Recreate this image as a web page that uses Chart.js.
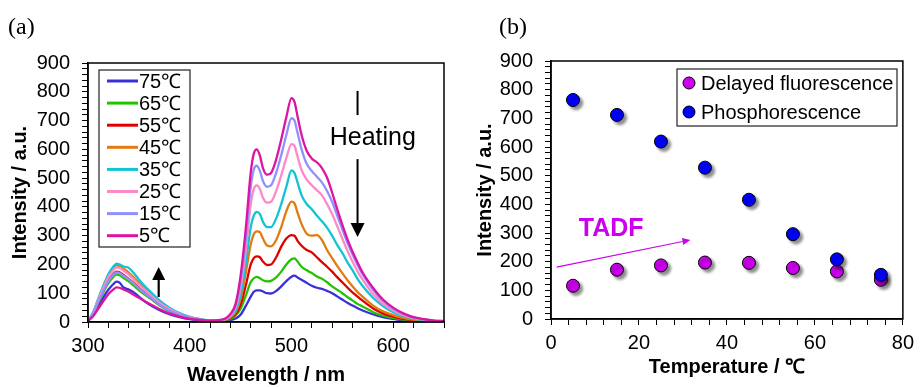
<!DOCTYPE html>
<html><head><meta charset="utf-8">
<script src="https://cdn.jsdelivr.net/npm/chart.js@4/dist/chart.umd.min.js"></script>
<style>
html,body{margin:0;padding:0;background:#fff;}
#wrap{position:relative;width:920px;height:387px;overflow:hidden;}
.panel{position:absolute;top:0;width:460px;height:387px;}
#pa{left:0}#pb{left:460px}
</style></head><body>
<div id="wrap"><div class="panel" id="pa"><canvas id="ca" width="460" height="387"></canvas></div><div class="panel" id="pb"><canvas id="cb" width="460" height="387"></canvas></div></div>
<script>
// ---------- Panel (a) data ----------
const wavelength = [300,305,310,315,320,325,328,331,335,340,345,350,355,360,370,380,390,400,410,
  420,430,435,440,445,450,455,460,463,466,469,472,476,480,485,490,495,500,503,506,510,515,520,525,530,535,540,545,550,555,560,565,570,580,590,600,610,620,630,640,650];
const tempLabels = ['75℃','65℃','55℃','45℃','35℃','25℃','15℃','5℃'];
const int75 = [4,22,55,85,112,132,140,137,120,113,103,88,74,62,42,27,17,10,6,
  3,3,4,7,12,25,55,88,105,110,110,106,100,99,108,124,142,157,161,155,147,136,126,119,115,108,100,89,78,67,57,48,40,27,17,11,6,3,2,1,1];
const int65 = [4,28,66,102,135,157,165,163,153,141,126,111,97,85,58,38,24,14,8,
  4,4,6,11,22,45,90,138,152,157,152,145,141,143,155,175,200,218,221,210,192,180,170,158,150,138,124,112,100,87,75,63,54,35,22,14,8,5,3,2,1];
const int55 = [5,29,70,109,144,167,175,173,163,150,135,119,104,90,62,41,26,15,8,
  4,5,7,14,28,60,125,200,222,228,225,210,198,200,225,262,290,302,300,282,265,250,242,225,208,192,175,156,138,120,103,88,74,48,30,19,11,6,4,2,1];
const int45 = [5,32,78,122,162,188,197,195,185,172,155,136,119,103,71,47,29,17,10,
  4,5,8,16,34,80,168,270,305,315,312,290,266,263,285,330,385,418,412,380,340,307,300,302,285,250,222,195,170,146,124,104,88,58,37,24,14,8,5,3,2];
const int35 = [5,33,80,125,166,193,203,200,193,188,170,148,128,110,76,50,31,18,10,
  5,6,9,19,40,95,200,330,370,383,375,348,330,330,360,410,470,527,518,485,440,410,392,370,350,328,300,268,240,208,180,150,125,85,55,34,20,12,7,4,2];
const int25 = [5,31,76,118,156,181,190,188,178,165,148,130,114,99,68,45,28,16,9,
  5,6,10,22,48,120,245,410,462,475,462,432,415,418,455,510,570,618,612,575,528,495,475,458,440,410,375,333,290,248,210,176,147,98,63,40,24,14,8,4,2];
const int15 = [5,29,69,107,141,164,172,170,160,148,133,117,102,89,61,40,25,15,8,
  5,6,11,25,55,140,285,470,530,543,525,490,470,475,518,580,650,708,700,658,600,550,525,505,485,455,418,370,322,276,235,198,165,113,73,46,28,16,9,5,3];
const int5 = [4,20,46,72,96,113,120,119,113,105,95,84,74,64,45,30,19,11,7,
  5,7,12,28,62,160,320,520,585,600,578,535,512,518,565,635,712,778,765,715,650,595,568,555,535,502,450,392,338,288,245,207,172,120,78,50,30,17,10,5,3];
const seriesA = [int75,int65,int55,int45,int35,int25,int15,int5];

// ---------- Panel (b) data ----------
const temperature = [5,15,25,35,45,55,65,75];
const delayedFluorescence = [116,172,187,197,196,178,166,137];
const phosphorescence = [764,712,619,528,416,296,208,154];
const labelsB = ['Delayed fluorescence','Phosphorescence'];

// ---------- styles ----------
const colorsA = ['#3a30d8','#22c400','#e00000','#e07c10','#10c4d4','#ff88c8','#9090ff','#dc14a0'];
const colorDF = '#cc00ee';
const colorPh = '#0000ff';
const FF = "'Liberation Sans', Arial, Helvetica, sans-serif";

function arrow(ctx, x1, y1, x2, y2, headLen, headHalf, color, lw){
  const ang = Math.atan2(y2-y1, x2-x1);
  const bx = x2 - headLen*Math.cos(ang), by = y2 - headLen*Math.sin(ang);
  ctx.save();
  ctx.strokeStyle = color; ctx.fillStyle = color; ctx.lineWidth = lw;
  ctx.beginPath(); ctx.moveTo(x1,y1); ctx.lineTo(bx,by); ctx.stroke();
  ctx.beginPath();
  ctx.moveTo(x2,y2);
  ctx.lineTo(bx + headHalf*Math.sin(ang), by - headHalf*Math.cos(ang));
  ctx.lineTo(bx - headHalf*Math.sin(ang), by + headHalf*Math.cos(ang));
  ctx.closePath(); ctx.fill();
  ctx.restore();
}

const frame = {
  id:'frame',
  afterDraw(chart){
    const {ctx, chartArea:a} = chart;
    ctx.save(); ctx.strokeStyle='#000'; ctx.lineWidth=1.5;
    ctx.strokeRect(a.left, a.top, a.right-a.left, a.bottom-a.top);
    ctx.restore();
  }
};

const annoA = {
  id:'annoA',
  afterDraw(chart){
    const ctx = chart.ctx, xs = chart.scales.x, ys = chart.scales.y;
    ctx.save();
    // panel label
    ctx.fillStyle='#000'; ctx.font="24px 'Liberation Serif', 'Times New Roman', serif";
    ctx.textBaseline='alphabetic'; ctx.textAlign='left';
    ctx.fillText('(a)', 8, 34);
    // legend
    const lx=99, ly=70, lw=91, lh=177;
    ctx.fillStyle='#fff'; ctx.fillRect(lx,ly,lw,lh);
    ctx.strokeStyle='#222'; ctx.lineWidth=1.2; ctx.strokeRect(lx,ly,lw,lh);
    ctx.font='20px '+FF; ctx.textBaseline='middle';
    chart.data.datasets.forEach((d,i)=>{
      const y = 81 + i*22.1;
      ctx.strokeStyle=d.borderColor; ctx.lineWidth=3;
      ctx.beginPath(); ctx.moveTo(107,y); ctx.lineTo(138,y); ctx.stroke();
      ctx.fillStyle='#000'; ctx.fillText(d.label, 139, y+1);
    });
    // Heating
    const hx = xs.getPixelForValue(565);
    ctx.strokeStyle='#000'; ctx.lineWidth=2;
    ctx.beginPath(); ctx.moveTo(hx, ys.getPixelForValue(803)); ctx.lineTo(hx, ys.getPixelForValue(719)); ctx.stroke();
    ctx.font='25px '+FF; ctx.textAlign='center'; ctx.fillStyle='#000';
    ctx.fillText('Heating', xs.getPixelForValue(580), ys.getPixelForValue(639));
    arrow(ctx, hx, ys.getPixelForValue(566), hx, ys.getPixelForValue(295), 14, 7, '#000', 2);
    const ux = xs.getPixelForValue(369.5);
    arrow(ctx, ux, ys.getPixelForValue(87), ux, ys.getPixelForValue(191), 13, 6.5, '#000', 2.2);
    ctx.restore();
  }
};

const shadow = {
  id:'shadow',
  beforeDatasetsDraw(chart){
    const ctx=chart.ctx; ctx.save();
    ctx.shadowColor='rgba(0,0,0,0.45)'; ctx.shadowOffsetX=3; ctx.shadowOffsetY=3; ctx.shadowBlur=3;
  },
  afterDatasetsDraw(chart){ chart.ctx.restore(); }
};

const annoB = {
  id:'annoB',
  afterDraw(chart){
    const ctx = chart.ctx, xs = chart.scales.x, ys = chart.scales.y;
    ctx.save();
    ctx.fillStyle='#000'; ctx.font="24px 'Liberation Serif', 'Times New Roman', serif";
    ctx.textBaseline='alphabetic'; ctx.textAlign='left';
    ctx.fillText('(b)', 39, 34);
    // legend
    const lx=217, ly=69, lw=220, lh=57;
    ctx.fillStyle='#fff'; ctx.fillRect(lx,ly,lw,lh);
    ctx.strokeStyle='#222'; ctx.lineWidth=1.2; ctx.strokeRect(lx,ly,lw,lh);
    ctx.font='20px '+FF; ctx.textBaseline='middle';
    chart.data.datasets.forEach((d,i)=>{
      const y = 83 + i*29;
      ctx.beginPath(); ctx.arc(229, y, 6, 0, Math.PI*2);
      ctx.fillStyle=d.backgroundColor; ctx.fill();
      ctx.strokeStyle='#000'; ctx.lineWidth=1; ctx.stroke();
      ctx.fillStyle='#000'; ctx.fillText(d.label, 241, y+1);
    });
    // TADF
    ctx.font='bold 25px '+FF; ctx.fillStyle=colorDF; ctx.textAlign='left';
    ctx.fillText('TADF', xs.getPixelForValue(6.3), ys.getPixelForValue(314));
    arrow(ctx, xs.getPixelForValue(1.28), ys.getPixelForValue(181), xs.getPixelForValue(31.7), ys.getPixelForValue(276), 8, 3.5, colorDF, 1.2);
    ctx.restore();
  }
};

function axisCommon(min, max, step, labelEvery, titleText, titlePad){
  return {
    type:'linear', min, max,
    ticks:{stepSize:step, autoSkip:false, maxRotation:0, color:'#000', font:{family:FF, size:20},
      callback:(v)=> (Math.abs(v % labelEvery) < 1e-9 ? String(v) : '')},
    grid:{drawOnChartArea:false, drawTicks:true, tickLength:6, color:'#000', lineWidth:1},
    border:{display:true, color:'#000', width:1.5},
    title:{display:true, text:titleText, color:'#000', font:{family:FF, size:20, weight:'bold'}, padding:titlePad}
  };
}

// ---------- Chart (a) ----------
const xA = axisCommon(300, 650, 20, 100, 'Wavelength / nm', {top:0,bottom:0});
xA.ticks.padding = 6; xA.afterFit = s => { s.height = 65; };
const yA = axisCommon(0, 900, 20, 100, 'Intensity / a.u.', {top:8,bottom:0});
yA.ticks.padding = 12; yA.afterFit = s => { s.width = 88; };

new Chart(document.getElementById('ca'), {
  type:'line',
  data:{ datasets: seriesA.map((s,i)=>({
    label: tempLabels[i],
    data: wavelength.map((w,j)=>({x:w, y:s[j]})),
    borderColor: colorsA[i], backgroundColor: colorsA[i],
    borderWidth: 2.3, pointRadius: 0, fill:false,
    cubicInterpolationMode:'monotone', order: -i
  }))},
  options:{
    responsive:false, animation:false, devicePixelRatio:1,
    layout:{padding:{top:63, right:16, left:0, bottom:0}},
    plugins:{legend:{display:false}, tooltip:{enabled:false}},
    scales:{x:xA, y:yA}
  },
  plugins:[frame, annoA]
});

// ---------- Chart (b) ----------
const xB = axisCommon(0, 80, 4, 20, 'Temperature / ℃', {top:0,bottom:8});
xB.ticks.padding = 6; xB.afterFit = s => { s.height = 68; };
const yB = axisCommon(0, 900, 20, 100, 'Intensity / a.u.', {top:13,bottom:0});
yB.ticks.padding = 12; yB.afterFit = s => { s.width = 91; };

new Chart(document.getElementById('cb'), {
  type:'scatter',
  data:{ datasets:[
    {label:labelsB[0], data: temperature.map((t,i)=>({x:t, y:delayedFluorescence[i]})),
     backgroundColor:colorDF, borderColor:'#000', borderWidth:1, pointRadius:6.5, order:1},
    {label:labelsB[1], data: temperature.map((t,i)=>({x:t, y:phosphorescence[i]})),
     backgroundColor:colorPh, borderColor:'#000', borderWidth:1, pointRadius:6.5, order:0}
  ]},
  options:{
    responsive:false, animation:false, devicePixelRatio:1,
    layout:{padding:{top:61, right:14, left:0, bottom:0}},
    plugins:{legend:{display:false}, tooltip:{enabled:false}},
    scales:{x:xB, y:yB}
  },
  plugins:[shadow, frame, annoB]
});
</script>
</body></html>
